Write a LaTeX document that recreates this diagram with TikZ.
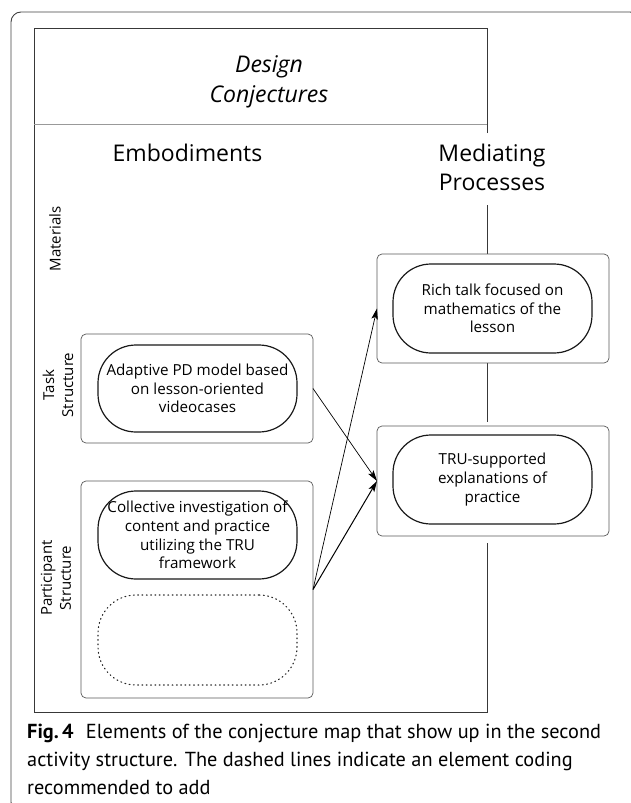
\documentclass[tikz,border=0pt]{standalone}
\usepackage{fontspec}
\setmainfont{Open Sans}
\newfontfamily\capfont{PT Sans}
\usetikzlibrary{arrows.meta}

\begin{document}
\begin{tikzpicture}[x=1pt,y=-1pt,
  framecol/.style={draw=black!75, line width=0.9pt},
  panel/.style={draw=black!65, line width=0.7pt, rounded corners=5pt,
    inner sep=0pt, outer sep=0pt, minimum width=232pt},
  pill/.style={draw=black!90, line width=1.2pt, rounded corners=38pt,
    inner sep=0pt, minimum width=199pt, align=center,
    font=\fontsize{15.2}{18.6}\selectfont},
  ghost/.style={pill, draw=black!85, line width=1.1pt,
    dash pattern=on 0.9pt off 3.4pt, line cap=round},
  rowlabel/.style={rotate=90, align=center, font=\fontsize{15}{19}\selectfont},
  colhead/.style={align=center, font=\fontsize{23}{29.5}\selectfont},
  arr/.style={-{Stealth[length=11pt,width=6.5pt,inset=2.5pt]}, line width=0.7pt, black},
  caption/.style={anchor=base west, inner sep=0pt,
    font=\capfont\fontsize{20.3}{28}\selectfont}
]
\useasboundingbox (0,0) rectangle (630,803);

% outer figure frame
\draw[framecol, rounded corners=10pt] (11,12) rectangle (640,812);

% conjecture map frame, right side broken by column content
\draw[draw=black!78, line width=1pt] (487,133) -- (487,28) -- (34,28) -- (34,712) -- (487,712) -- (487,543);
\draw[draw=black!78, line width=1pt] (487,205) -- (487,254);
\draw[draw=black!78, line width=1pt] (487,363) -- (487,422);
\draw[draw=black!40, line width=0.9pt] (34,124) -- (487,124);

% headings
\node[colhead, font=\itshape\fontsize{23}{30}\selectfont] (title) at (269,82) {Design\\Conjectures};
\node[colhead] (emb) at (187.5,153) {Embodiments};
\node[colhead] (med) at (492,167.5) {Mediating\\Processes};

% row labels
\node[rowlabel] (mat) at (55,239) {Materials};
\node[rowlabel] (task) at (58,385) {Task\\Structure};
\node[rowlabel] (part) at (56,578) {Participant\\Structure};

% embodiment panels
\node[panel, minimum height=109pt] (taskbox) at (197,388.5) {};
\node[pill, minimum height=87pt] (taskpill) at (197.5,388.5)
  {Adaptive PD model based\\on lesson-oriented\\videocases};

\node[panel, minimum height=217pt] (partbox) at (197,589.5) {};
\node[pill, minimum height=88pt] (collpill) at (197.5,535)
  {Collective investigation of\\content and practice\\utilizing the TRU\\framework};
\node[ghost, minimum height=90pt] (newpill) at (197.5,640) {};

% mediating-process panels
\node[panel, minimum height=109pt] (richbox) at (493,308.5) {};
\node[pill, minimum height=89pt] (richpill) at (492.5,308.5)
  {Rich talk focused on\\mathematics of the\\lesson};

\node[panel, minimum height=110pt] (trubox) at (493,481) {};
\node[pill, minimum height=89pt] (trupill) at (492.5,479.5)
  {TRU-supported\\explanations of\\practice};

% conjectured links
\draw[arr] (taskbox.east) -- (trubox.west);
\draw[arr, line width=1pt] (partbox.east) -- (trubox.west);
\draw[arr] (partbox.east) -- (richbox.west);

% caption
\node[caption] (cap1) at (27,738) {\textbf{Fig.\,4}\hspace{0.6em}Elements of the conjecture map that show up in the second};
\node[caption] (cap2) at (27,766) {activity structure. The dashed lines indicate an element coding};
\node[caption] (cap3) at (27,794) {recommended to add};
\end{tikzpicture}
\end{document}
